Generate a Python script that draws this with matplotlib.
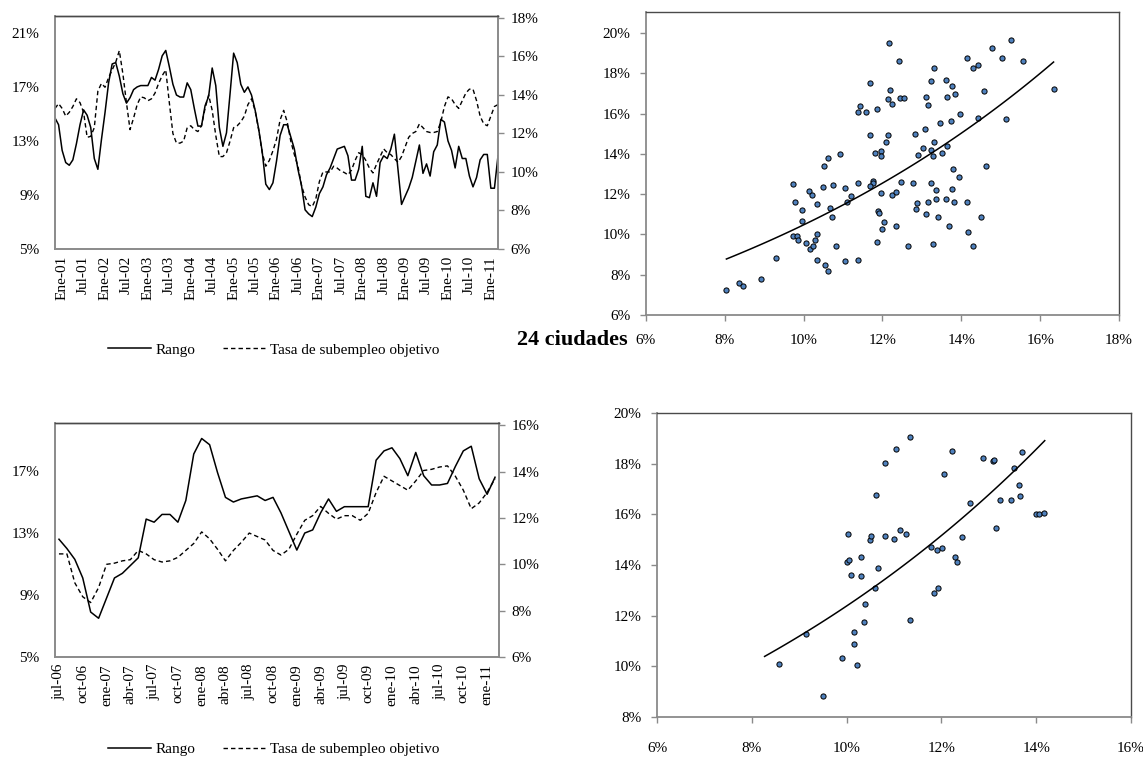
import numpy as np
import matplotlib
matplotlib.use("Agg")
import matplotlib.pyplot as plt
from matplotlib.lines import Line2D

plt.rcParams['font.family'] = ['Liberation Serif', 'DejaVu Serif']
plt.rcParams['font.size'] = 11

# ---------------- DATA ----------------
# Top-left: monthly series (Nov-00 .. Mar-11), values in %
top_rango = [14.7, 14.2, 12.3, 11.4, 11.2, 11.6, 12.8, 14.2, 15.3, 14.9,
             14.0, 11.7, 10.9, 13.1, 15.1, 17.3, 18.7, 18.8, 17.8, 16.5,
             15.8, 16.2, 16.8, 17.0, 17.1, 17.1, 17.1, 17.7, 17.5, 18.3,
             19.3, 19.7, 18.5, 17.2, 16.4, 16.25, 16.25, 17.3, 16.8, 15.4,
             14.1, 14.1, 15.6, 16.3, 18.4, 17.1, 14.0, 12.6, 13.6, 16.5,
             19.5, 18.8, 17.2, 16.6, 17.0, 16.4, 15.3, 13.9, 12.2, 9.8,
             9.4, 9.9, 11.5, 13.4, 14.2, 14.2, 13.3, 12.4, 10.9, 9.7,
             7.9, 7.6, 7.4, 8.1, 9.1, 9.6, 10.5, 11.0, 11.7, 12.4,
             12.5, 12.6, 11.9, 10.1, 10.1, 10.9, 12.6, 8.9, 8.8, 9.9,
             8.9, 11.4, 11.9, 11.7, 12.4, 13.5, 10.9, 8.3, 8.9, 9.5,
             10.3, 11.5, 12.7, 10.6, 11.3, 10.4, 12.2, 12.7, 14.6, 14.4,
             13.0, 12.3, 11.0, 12.6, 11.7, 11.7, 10.4, 9.6, 10.3, 11.6,
             12.0, 12.0, 9.5, 9.5, 11.9]
top_tasa = [13.3, 13.55, 13.3, 12.9, 13.1, 13.4, 13.8, 13.6, 13.1, 11.8,
            11.85, 12.3, 14.2, 14.6, 14.4, 14.9, 15.3, 15.7, 16.3, 15.1,
            13.6, 12.2, 12.8, 13.5, 13.9, 13.85, 13.7, 13.8, 14.1, 14.6,
            15.0, 15.3, 13.6, 12.0, 11.5, 11.5, 11.6, 12.3, 12.4, 12.2,
            12.1, 12.4, 13.3, 14.0, 13.2, 11.9, 10.8, 10.8, 11.0, 11.6,
            12.3, 12.4, 12.6, 12.9, 13.5, 13.8, 13.2, 12.2, 11.0, 10.3,
            10.6, 11.1, 11.7, 12.7, 13.2, 12.6, 11.6, 10.9, 10.3, 9.3,
            8.7, 8.3, 8.2, 8.6, 9.5, 10.0, 10.0, 10.0, 10.3, 10.2,
            10.05, 9.97, 9.85, 10.1, 10.6, 11.0, 10.9, 10.6, 10.2, 9.95,
            10.4, 10.8, 11.2, 11.0, 10.9, 10.7, 10.5, 10.8, 11.3, 11.8,
            12.0, 12.1, 12.5, 12.3, 12.1, 12.05, 12.05, 12.1, 12.6, 13.4,
            13.9, 13.8, 13.5, 13.3, 13.7, 14.1, 14.3, 14.3, 13.7, 12.9,
            12.5, 12.4, 12.9, 13.4, 13.5]
top_xlabels = ['Ene-01', 'Jul-01', 'Ene-02', 'Jul-02', 'Ene-03', 'Jul-03', 'Ene-04',
               'Jul-04', 'Ene-05', 'Jul-05', 'Ene-06', 'Jul-06', 'Ene-07', 'Jul-07',
               'Ene-08', 'Jul-08', 'Ene-09', 'Jul-09', 'Ene-10', 'Jul-10', 'Ene-11']

# Bottom-left: monthly series (jul-06 .. feb-11), values in %
bot_rango = [12.6, 12.0, 11.3, 10.1, 7.9, 7.5, 8.8, 10.1, 10.4, 10.9,
             11.4, 13.9, 13.7, 14.2, 14.2, 13.7, 15.1, 18.1, 19.1, 18.7,
             16.9, 15.3, 15.0, 15.2, 15.3, 15.4, 15.1, 15.3, 14.3, 13.1,
             11.9, 13.0, 13.2, 14.3, 15.2, 14.4, 14.7, 14.7, 14.7, 14.7,
             17.7, 18.3, 18.5, 17.8, 16.7, 18.2, 16.7, 16.1, 16.1, 16.2,
             17.3, 18.3, 18.6, 16.5, 15.5, 16.6]
bot_tasa = [10.45, 10.45, 9.2, 8.6, 8.35, 9.0, 10.0, 10.05, 10.15, 10.2,
            10.6, 10.45, 10.2, 10.1, 10.15, 10.3, 10.6, 10.9, 11.4, 11.1,
            10.65, 10.15, 10.6, 10.95, 11.35, 11.2, 11.05, 10.6, 10.4, 10.65,
            11.3, 11.9, 12.1, 12.5, 12.2, 11.95, 12.1, 12.1, 11.9, 12.2,
            13.1, 13.8, 13.6, 13.4, 13.2, 13.6, 14.05, 14.1, 14.2, 14.25,
            13.8, 13.2, 12.4, 12.65, 13.1, 13.7]
bot_xlabels = ['jul-06', 'oct-06', 'ene-07', 'abr-07', 'jul-07', 'oct-07', 'ene-08',
               'abr-08', 'jul-08', 'oct-08', 'ene-09', 'abr-09', 'jul-09', 'oct-09',
               'ene-10', 'abr-10', 'jul-10', 'oct-10', 'ene-11']

# Top-right scatter (x %, y %)
sc_top_x = [8.04, 8.35, 8.47, 8.91, 9.31, 9.73, 9.78, 9.73, 9.82, 9.86, 9.95, 9.96, 10.07,
            10.13, 10.22, 10.16, 10.24, 10.28, 10.33, 10.34, 10.33, 10.48, 10.51, 10.54,
            10.62, 10.62, 10.68, 10.71, 10.75, 10.82, 10.92, 11.04, 11.06, 11.09, 11.21,
            11.37, 11.37, 11.38, 11.43, 11.57, 11.69, 11.69, 11.80, 11.75, 11.75, 11.68,
            11.87, 11.87, 11.89, 11.91,
            12.17, 12.42, 12.19, 12.13, 12.24, 12.44, 12.54, 12.14, 12.10, 11.97, 11.96,
            11.96, 12.04, 12.00, 12.24, 12.35, 12.34, 12.46, 12.65, 12.78, 12.82, 12.84,
            12.88, 12.91, 13.03, 13.07, 13.10, 13.16, 13.11, 13.22, 13.22, 13.24, 13.27,
            13.30, 13.31, 13.27, 13.35, 13.35, 13.42, 13.47, 13.52, 13.16, 13.62, 13.64,
            13.64, 13.69, 13.73, 13.76, 13.76, 13.60, 13.78, 13.81, 13.85, 13.94, 13.96,
            14.15, 14.14, 14.17, 14.30, 14.42, 14.30, 14.42, 14.50, 14.58, 14.63, 14.79,
            15.03, 15.13, 15.26, 15.57, 16.34]
sc_top_y = [7.26, 7.59, 7.46, 7.80, 8.85, 12.52, 11.61, 9.90, 9.90, 9.74, 11.23, 10.67, 9.59,
            12.14, 11.94, 9.28, 9.44, 9.74, 10.04, 11.49, 8.75, 12.35, 13.39, 8.46,
            13.81, 8.17, 11.33, 10.88, 12.44, 9.42, 13.99, 12.30, 8.70, 11.59, 11.92,
            16.07, 8.73, 12.58, 16.36, 16.07, 17.53, 14.93, 14.07, 12.68, 12.57, 12.39,
            16.24, 9.62, 11.19, 11.08,
            19.52, 18.61, 17.18, 16.72, 16.49, 16.79, 16.77, 14.95, 14.59, 14.14, 13.92,
            12.05, 10.63, 10.25, 11.94, 12.10, 10.40, 12.63, 9.42, 12.55, 14.97, 11.28,
            11.56, 13.96, 14.29, 15.23, 16.85, 16.41, 11.03, 14.22, 12.55, 17.63, 13.92,
            14.59, 18.27, 9.51, 12.19, 11.74, 10.88, 15.53, 14.04, 11.61, 17.65, 16.85,
            14.39, 10.43, 15.63, 17.36, 12.24, 11.74, 13.25, 11.59, 16.98, 12.85, 15.98,
            11.59, 18.75, 10.10, 18.27, 18.42, 9.42, 15.78, 10.88, 17.12, 13.41, 19.28,
            18.79, 15.74, 19.66, 18.61, 17.23]
top_trend = dict(a=4.252, b=0.0902, x0=8.04, x1=16.34)

# Bottom-right scatter (24 ciudades)
sc_bot_x = [8.57, 9.15, 9.50, 9.90, 10.01, 10.06, 10.03, 10.10, 10.16, 10.16, 10.22, 10.31,
            10.31, 10.38, 10.37, 10.49, 10.51, 10.60, 10.61, 10.66,
            10.80, 10.80, 11.01, 11.05, 11.13, 11.26, 11.33, 11.33, 11.78, 11.84, 11.93,
            11.91, 12.02, 12.06, 12.23, 12.29, 12.32, 12.43, 12.60, 12.88, 13.08, 13.10,
            13.16, 13.23, 13.47, 13.53, 13.64, 13.65, 13.69, 13.99, 14.05, 14.16]
sc_bot_y = [10.09, 11.29, 8.82, 10.31, 14.12, 14.20, 15.21, 13.59, 11.37, 10.88, 10.04, 14.30,
            13.57, 12.48, 11.75, 14.98, 15.16, 13.08, 16.75, 13.87,
            18.01, 15.16, 15.02, 18.59, 15.40, 15.24, 19.04, 11.82, 14.72, 12.90, 13.10,
            14.61, 14.69, 17.60, 18.51, 14.30, 14.10, 15.12, 16.46, 18.21, 18.10, 18.15,
            15.45, 16.58, 16.58, 17.81, 17.14, 16.72, 18.47, 16.02, 16.03, 16.07]
bot_trend = dict(a=4.496, b=0.1013, x0=8.27, x1=14.18)

title_mid = '24 ciudades'
legend_labels = ['Rango', 'Tasa de subempleo objetivo']

# ---------------- FIGURE ----------------
W, H = 1143, 766
fig = plt.figure(figsize=(W / 100, H / 100), dpi=100)


def rect(x0, y0, x1, y1):
    return [x0 / W, 1 - y1 / H, (x1 - x0) / W, (y1 - y0) / H]


GRAY = '#8a8a8a'
DARK = '#4a4a4a'
pct = lambda vals: [f'{v:g}%' for v in vals]


def line_panel(r, rango, tasa, ylim_l, yt_l, ylim_r, yt_r, xlab, xpos, xlim):
    ax = fig.add_axes(r)
    x = np.arange(len(rango))
    ax.plot(x, rango, color='black', lw=1.1)
    ax.set_xlim(*xlim)
    ax.set_ylim(*ylim_l)
    ax.set_yticks(yt_l)
    ax.set_yticklabels(pct(yt_l))
    ax.set_xticks(xpos)
    ax.set_xticklabels(xlab, rotation=90)
    ax.tick_params(axis='x', length=0, pad=5, labelsize=11)
    ax.tick_params(axis='y', length=0, pad=11, labelsize=11)
    ax2 = ax.twinx()
    ax2.plot(x, tasa, color='black', lw=1.0, linestyle=(0, (3.2, 2.2)))
    ax2.set_ylim(*ylim_r)
    ax2.set_yticks(yt_r)
    ax2.set_yticklabels(pct(yt_r))
    ax2.tick_params(axis='y', length=4, width=1, color=GRAY, direction='out', pad=5,
                    labelsize=11)
    for a in (ax, ax2):
        for s in ('left', 'bottom', 'right'):
            a.spines[s].set_color(GRAY)
            a.spines[s].set_linewidth(1.2)
        a.spines['top'].set_color(DARK)
        a.spines['top'].set_linewidth(1.0)
    return ax


line_panel(rect(55, 16, 498, 249), top_rango, top_tasa, (5, 22.25), [5, 9, 13, 17, 21],
           (6, 18.1), [6, 8, 10, 12, 14, 16, 18], top_xlabels,
           np.arange(2, len(top_rango), 6), (0, len(top_rango) - 1))
line_panel(rect(55, 423, 499, 657), bot_rango, bot_tasa, (5, 20.1), [5, 9, 13, 17],
           (6, 16.1), [6, 8, 10, 12, 14, 16], bot_xlabels,
           np.arange(0, len(bot_rango), 3), (-0.5, len(bot_rango) - 0.5))

handles = [Line2D([], [], color='black', lw=1.1),
           Line2D([], [], color='black', lw=1.0, linestyle=(0, (3.2, 2.2)))]
for yc in (350, 749):
    fig.legend(handles, legend_labels, loc='center', bbox_to_anchor=(274 / W, 1 - yc / H),
               ncol=2, frameon=False, fontsize=11, handlelength=2.8, handletextpad=0.3,
               columnspacing=1.8, borderpad=0)


def scatter_panel(r, xs, ys, trend, xlim, xt, ylim, yt, xpad):
    ax = fig.add_axes(r)
    ax.scatter(xs, ys, s=14, facecolor='#4f81bd', edgecolor='black', linewidths=0.7,
               zorder=3)
    xx = np.linspace(trend['x0'], trend['x1'], 100)
    ax.plot(xx, trend['a'] * np.exp(trend['b'] * xx), color='black', lw=1.1, zorder=4)
    ax.set_xlim(*xlim)
    ax.set_ylim(*ylim)
    ax.set_xticks(xt)
    ax.set_xticklabels(pct(xt))
    ax.set_yticks(yt)
    ax.set_yticklabels(pct(yt))
    ax.tick_params(axis='both', length=4, width=1, color=GRAY, direction='out',
                   labelsize=11)
    ax.tick_params(axis='x', pad=xpad)
    ax.tick_params(axis='y', pad=7)
    for s in ('left', 'bottom'):
        ax.spines[s].set_color(GRAY)
        ax.spines[s].set_linewidth(1.3)
    for s in ('top', 'right'):
        ax.spines[s].set_color(DARK)
        ax.spines[s].set_linewidth(1.0)
    return ax


scatter_panel(rect(646, 12, 1119, 315), sc_top_x, sc_top_y, top_trend, (6, 18),
              [6, 8, 10, 12, 14, 16, 18], (6, 21.05), [6, 8, 10, 12, 14, 16, 18, 20], 10)
scatter_panel(rect(657, 413, 1131, 717), sc_bot_x, sc_bot_y, bot_trend, (6, 16),
              [6, 8, 10, 12, 14, 16], (8, 20), [8, 10, 12, 14, 16, 18, 20], 14)

fig.text(572 / W, 1 - 340 / H, title_mid, ha='center', va='center', fontsize=16,
         fontweight='bold')

fig.savefig('out.png', dpi=100)
